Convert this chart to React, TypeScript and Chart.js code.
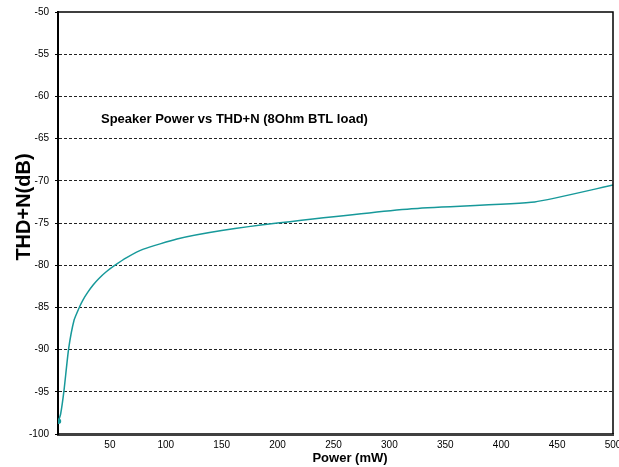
import React, { useEffect, useRef } from "react";
import { Chart, registerables } from "chart.js";

Chart.register(...registerables);

// ---- data ----
const powerMw = [4, 6, 9, 13, 18, 23, 26, 30, 35, 40, 47, 54, 65, 80, 110, 150, 200, 320, 430, 500];
const thdDb = [-98.5, -97.6, -94.8, -90.0, -86.5, -84.9, -84.1, -83.25, -82.35, -81.6, -80.75, -80.05, -79.1, -78.1, -76.9, -75.9, -75.0, -73.3, -72.5, -70.5];
const xTickValues = [50, 100, 150, 200, 250, 300, 350, 400, 450, 500];
const yTickValues = [-100, -95, -90, -85, -80, -75, -70, -65, -60, -55, -50];
const chartTitle = "Speaker Power vs THD+N (8Ohm BTL load)";
const xTitle = "Power (mW)";
const yTitle = "THD+N(dB)";

const FONT = '"Liberation Sans", Arial, Helvetica, sans-serif';

export default function App() {
  const ref = useRef<HTMLCanvasElement | null>(null);

  useEffect(() => {
    if (!ref.current) return;

    const framePlugin = {
      id: "frameAndTitles",
      afterDraw(chart: any) {
        const { ctx, chartArea } = chart;
        ctx.save();
        // top and right frame
        ctx.strokeStyle = "#000";
        ctx.lineWidth = 1.5;
        ctx.beginPath();
        ctx.moveTo(chartArea.left, chartArea.top);
        ctx.lineTo(chartArea.right, chartArea.top);
        ctx.lineTo(chartArea.right, chartArea.bottom);
        ctx.stroke();
        ctx.fillStyle = "#000";
        // chart title inside the plot
        ctx.font = `bold 13px ${FONT}`;
        ctx.textAlign = "left";
        ctx.textBaseline = "middle";
        ctx.fillText(chartTitle, chartArea.left + 43, chartArea.top + 107);
        // x axis title
        ctx.textAlign = "center";
        ctx.fillText(xTitle, chartArea.left + 292, chartArea.bottom + 24);
        // y axis title
        ctx.save();
        ctx.translate(24, chartArea.top + 195);
        ctx.rotate(-Math.PI / 2);
        ctx.font = `bold 20px ${FONT}`;
        ctx.fillText(yTitle, 0, 0);
        ctx.restore();
        ctx.restore();
      },
    };

    const chart = new Chart(ref.current, {
      type: "line",
      data: {
        datasets: [
          {
            data: powerMw.map((p, i) => ({ x: p, y: thdDb[i] })),
            borderColor: "#17999a",
            backgroundColor: "#17999a",
            borderWidth: 1.5,
            pointRadius: (c: any) => (c.dataIndex === 0 ? 2 : 0),
            tension: 0.15,
            fill: false,
          },
        ],
      },
      options: {
        animation: false,
        responsive: false,
        layout: { padding: { left: 0, top: 12, right: 6, bottom: 0 } },
        plugins: {
          legend: { display: false },
          tooltip: { enabled: false },
        },
        scales: {
          x: {
            type: "linear",
            min: 3.6,
            max: 500,
            afterBuildTicks: (s: any) => {
              s.ticks = xTickValues.map((v) => ({ value: v }));
            },
            afterFit: (s: any) => {
              s.height = 33;
              s.paddingLeft = 0;
              s.paddingRight = 0;
            },
            grid: { display: false, drawTicks: false },
            border: { display: true, color: "#404040", width: 3 },
            ticks: {
              color: "#000",
              font: { family: FONT, size: 10 },
              padding: 5,
              maxRotation: 0,
              autoSkip: false,
            },
            title: { display: false },
          },
          y: {
            type: "linear",
            min: -100,
            max: -50,
            afterBuildTicks: (s: any) => {
              s.ticks = yTickValues.map((v) => ({ value: v }));
            },
            afterFit: (s: any) => {
              s.width = 58;
              s.paddingTop = 0;
              s.paddingBottom = 0;
            },
            grid: {
              display: true,
              color: (c: any) =>
                c.tick && (c.tick.value === -100 || c.tick.value === -50) ? "rgba(0,0,0,0)" : "#222",
              lineWidth: 1,
              drawTicks: true,
              tickLength: 3,
              tickColor: "#000",
            },
            border: { display: true, color: "#000", width: 2, dash: [3, 2] },
            ticks: {
              color: "#000",
              font: { family: FONT, size: 10 },
              padding: 6,
              autoSkip: false,
            },
            title: { display: false },
          },
        },
      },
      plugins: [framePlugin],
    } as any);

    return () => chart.destroy();
  }, []);

  return (
    <div style={{ position: "absolute", left: 0, top: 0, width: 619, height: 467, background: "#fff" }}>
      <canvas ref={ref} width={619} height={467} style={{ display: "block" }} />
    </div>
  );
}
